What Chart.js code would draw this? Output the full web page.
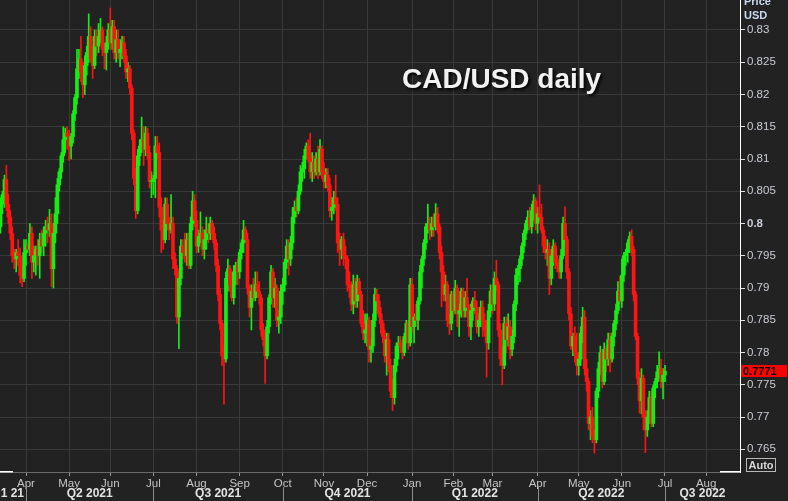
<!DOCTYPE html>
<html><head><meta charset="utf-8">
<script src="https://cdn.jsdelivr.net/npm/chart.js@4"></script>
<style>html,body{margin:0;padding:0;background:#222222;}#wrap{width:788px;height:501px;position:relative;}</style>
</head><body><div id="wrap"><canvas id="c"></canvas></div>
<script>
const chartTitle = 'CAD/USD daily';
const unitLines = ['Price', 'USD'];
const autoLabel = 'Auto';
const firstTradingDay = [2021, 2, 15];   // Mon 15 Mar 2021
const axisSlots = 380;                   // weekday slots shown on the time axis
const monthNames = ['Jan','Feb','Mar','Apr','May','Jun','Jul','Aug','Sep','Oct','Nov','Dec'];
const quarterLabels = ['Q1 21','Q2 2021','Q3 2021','Q4 2021','Q1 2022','Q2 2022','Q3 2022'];
const yTicks = [0.765,0.77,0.775,0.78,0.785,0.79,0.795,0.8,0.805,0.81,0.815,0.82,0.825,0.83];

// one line per week (Mon..Fri), 15 Mar 2021 .. 1 Jul 2022
const opens = [
.7995,.8030,.8045,.8068,.8030, .8010,.7985,.7950,.7945,.7955, .7950,.7920,.7915,.7955,.7965,
.7960,.7985,.7940,.7950,.7960, .7950,.7975,.7965,.7985,.7995, .7990,.8000,.7930,.7985,.8015,
.8060,.8080,.8105,.8130,.8140, .8135,.8120,.8135,.8170,.8195, .8240,.8255,.8235,.8215,.8245,
.8265,.8290,.8255,.8245,.8290, .8275,.8290,.8300,.8270,.8265, .8280,.8300,.8280,.8305,.8265,
.8285,.8265,.8270,.8280,.8260, .8235,.8240,.8210,.8140,.8070, .8020,.8105,.8120,.8130,.8115,
.8140,.8110,.8065,.8065,.8070, .8120,.8110,.8025,.7990,.7975, .8030,.8000,.7990,.8000,.7945,
.7930,.7855,.7915,.7965,.7955, .7950,.7975,.7935,.8000,.8035, .8005,.7965,.7980,.7985,.7960,
.7975,.7990,.7985,.8000,.7985, .7970,.7935,.7890,.7845,.7795, .7790,.7915,.7930,.7905,.7885,
.7925,.7935,.7925,.7955,.7970, .7990,.7975,.7900,.7870,.7895, .7885,.7905,.7895,.7885,.7835,
.7820,.7795,.7840,.7885,.7925, .7885,.7900,.7850,.7855,.7895, .7905,.7940,.7965,.7945,.7970,
.8010,.8025,.8020,.8050,.8080, .8085,.8105,.8120,.8100,.8080, .8095,.8080,.8100,.8080,.8115,
.8080,.8065,.8075,.8060,.8020, .8025,.8040,.8030,.7970,.7960, .7975,.7950,.7945,.7905,.7900,
.7875,.7905,.7880,.7910,.7890, .7845,.7830,.7835,.7850,.7805, .7810,.7850,.7890,.7880,.7860,
.7845,.7825,.7795,.7820,.7780, .7740,.7730,.7780,.7810,.7815, .7810,.7800,.7825,.7845,.7815,
.7905,.7840,.7855,.7850,.7880, .7925,.7945,.7970,.7995,.8000, .7990,.8000,.7995,.8015,.7995,
.7955,.7925,.7890,.7905,.7850, .7845,.7890,.7865,.7900,.7860, .7865,.7895,.7865,.7885,.7870,
.7840,.7865,.7880,.7870,.7840, .7850,.7870,.7850,.7835,.7815, .7865,.7895,.7875,.7915,.7905,
.7835,.7790,.7780,.7845,.7820, .7840,.7805,.7825,.7875,.7920, .7930,.7945,.7965,.7985,.8000,
.8010,.7995,.8020,.8035,.8000, .8015,.8010,.7990,.7965,.7955, .7960,.7915,.7950,.7965,.7940,
.7935,.7925,.7950,.8000,.7975, .7925,.7860,.7810,.7825,.7800, .7780,.7790,.7830,.7855,.7775,
.7755,.7690,.7700,.7670,.7665, .7740,.7775,.7800,.7755,.7805, .7790,.7820,.7790,.7825,.7845,
.7865,.7895,.7880,.7920,.7950, .7955,.7970,.7980,.7960,.7890, .7825,.7760,.7725,.7760,.7700,
.7680,.7700,.7730,.7690,.7745, .7755,.7770,.7775,.7755,.7765
];
const highs = [
.8040,.8050,.8075,.8090,.8045, .8020,.7995,.7960,.7960,.7975, .7962,.7935,.7975,.7975,.7970,
.8000,.7995,.7965,.7965,.7975, .7985,.7990,.7995,.8005,.8010, .8022,.8015,.8000,.8040,.8070,
.8085,.8110,.8150,.8148,.8150, .8145,.8140,.8175,.8200,.8270, .8270,.8290,.8250,.8260,.8275,
.8325,.8305,.8275,.8300,.8300, .8310,.8318,.8305,.8280,.8290, .8310,.8334,.8315,.8315,.8300,
.8300,.8285,.8290,.8290,.8270, .8250,.8245,.8215,.8145,.8085, .8115,.8130,.8165,.8150,.8150,
.8148,.8120,.8080,.8075,.8135, .8135,.8125,.8040,.8005,.8040, .8040,.8010,.8045,.8010,.7955,
.7935,.7925,.7975,.7975,.7985, .7985,.7985,.8010,.8050,.8045, .8020,.7990,.8018,.7995,.7990,
.8010,.8000,.8010,.8005,.7995, .7975,.7945,.7900,.7850,.7810, .7925,.7945,.7935,.7925,.7935,
.7940,.7945,.7960,.7975,.8005, .7995,.7985,.7905,.7905,.7915, .7925,.7925,.7910,.7890,.7845,
.7830,.7850,.7890,.7935,.7930, .7915,.7905,.7865,.7905,.7915, .7945,.7975,.7975,.7980,.8025,
.8035,.8040,.8060,.8090,.8095, .8115,.8125,.8130,.8140,.8110, .8105,.8110,.8120,.8130,.8120,
.8095,.8085,.8085,.8070,.8040, .8050,.8075,.8040,.7985,.7980, .7985,.7965,.7950,.7925,.7910,
.7920,.7915,.7920,.7915,.7895, .7865,.7860,.7860,.7855,.7820, .7860,.7900,.7898,.7890,.7870,
.7850,.7835,.7830,.7830,.7790, .7758,.7790,.7815,.7825,.7825, .7820,.7830,.7850,.7850,.7915,
.7915,.7860,.7875,.7885,.7935, .7950,.7975,.8000,.8030,.8010, .8010,.8015,.8031,.8025,.8000,
.7965,.7935,.7920,.7910,.7860, .7895,.7895,.7912,.7905,.7875, .7900,.7900,.7895,.7915,.7875,
.7875,.7885,.7895,.7880,.7860, .7880,.7880,.7860,.7850,.7875, .7905,.7905,.7925,.7943,.7910,
.7845,.7810,.7855,.7855,.7860, .7850,.7835,.7880,.7930,.7935, .7950,.7970,.7990,.8005,.8020,
.8025,.8030,.8045,.8040,.8025, .8060,.8030,.7995,.7980,.7975, .7970,.7960,.7975,.7970,.7950,
.7945,.7960,.8010,.8026,.7980, .7930,.7870,.7830,.7840,.7830, .7800,.7840,.7870,.7865,.7790,
.7760,.7710,.7715,.7680,.7745, .7785,.7810,.7805,.7815,.7810, .7830,.7830,.7830,.7850,.7875,
.7910,.7918,.7945,.7955,.7960, .7975,.7987,.7990,.7965,.7895, .7830,.7770,.7775,.7765,.7710,
.7710,.7740,.7740,.7750,.7760, .7780,.7801,.7790,.7775,.7780
];
const lows = [
.7985,.8015,.8025,.8020,.8000, .7975,.7940,.7930,.7925,.7935, .7908,.7902,.7910,.7935,.7955,
.7950,.7915,.7925,.7920,.7935, .7915,.7955,.7950,.7965,.7970, .7980,.7902,.7900,.7970,.8000,
.8050,.8070,.8095,.8110,.8115, .8098,.8100,.8125,.8160,.8185, .8225,.8220,.8195,.8200,.8230,
.8250,.8250,.8225,.8240,.8260, .8265,.8280,.8260,.8240,.8238, .8270,.8270,.8270,.8255,.8250,
.8255,.8243,.8255,.8250,.8225, .8220,.8200,.8130,.8060,.8008, .8015,.8090,.8110,.8090,.8105,
.8100,.8055,.8040,.8045,.8040, .8100,.8010,.7955,.7960,.7970, .7990,.7975,.7985,.7930,.7920,
.7845,.7806,.7905,.7945,.7940, .7935,.7930,.7930,.7990,.7995, .7955,.7955,.7970,.7950,.7945,
.7960,.7970,.7975,.7975,.7960, .7925,.7880,.7835,.7780,.7720, .7785,.7895,.7895,.7880,.7875,
.7905,.7905,.7915,.7945,.7955, .7970,.7890,.7855,.7835,.7880, .7880,.7885,.7875,.7825,.7810,
.7752,.7790,.7830,.7875,.7870, .7870,.7840,.7830,.7845,.7875, .7895,.7930,.7920,.7935,.7960,
.8000,.8010,.8015,.8045,.8065, .8070,.8100,.8095,.8070,.8065, .8070,.8075,.8070,.8075,.8070,
.8055,.8055,.8050,.8010,.8005, .8015,.8020,.7955,.7935,.7945, .7935,.7930,.7895,.7885,.7865,
.7860,.7870,.7870,.7880,.7840, .7820,.7815,.7810,.7785,.7785, .7800,.7840,.7865,.7855,.7830,
.7815,.7785,.7765,.7770,.7730, .7710,.7720,.7770,.7790,.7800, .7790,.7795,.7815,.7805,.7810,
.7830,.7815,.7840,.7835,.7875, .7900,.7935,.7960,.7985,.7975, .7980,.7980,.7990,.7985,.7945,
.7871,.7880,.7880,.7840,.7828, .7835,.7855,.7860,.7840,.7825, .7855,.7855,.7855,.7855,.7825,
.7820,.7850,.7860,.7830,.7825, .7840,.7825,.7825,.7762,.7805, .7855,.7860,.7865,.7895,.7825,
.7780,.7750,.7775,.7800,.7810, .7790,.7795,.7815,.7865,.7905, .7910,.7935,.7955,.7975,.7990,
.7990,.7985,.8005,.7990,.7985, .8005,.7985,.7955,.7945,.7935, .7890,.7905,.7935,.7930,.7925,
.7915,.7915,.7945,.7965,.7915, .7850,.7805,.7795,.7785,.7765, .7765,.7780,.7815,.7765,.7740,
.7680,.7665,.7660,.7644,.7660, .7730,.7765,.7745,.7750,.7770, .7780,.7770,.7785,.7810,.7835,
.7860,.7875,.7870,.7910,.7935, .7940,.7955,.7950,.7880,.7820, .7750,.7706,.7705,.7680,.7645,
.7670,.7690,.7685,.7685,.7730, .7745,.7760,.7745,.7728,.7755
];
const closes = [
.8030,.8045,.8068,.8030,.8010, .7985,.7950,.7945,.7955,.7950, .7920,.7915,.7955,.7965,.7960,
.7985,.7940,.7950,.7960,.7950, .7975,.7965,.7985,.7995,.7990, .8000,.7930,.7985,.8015,.8060,
.8080,.8105,.8130,.8140,.8135, .8120,.8135,.8170,.8195,.8240, .8255,.8235,.8215,.8245,.8265,
.8290,.8255,.8245,.8290,.8275, .8290,.8300,.8270,.8265,.8280, .8300,.8280,.8305,.8265,.8285,
.8265,.8270,.8280,.8260,.8235, .8240,.8210,.8140,.8070,.8020, .8105,.8120,.8130,.8115,.8140,
.8110,.8065,.8065,.8070,.8120, .8110,.8025,.7990,.7975,.8030, .8000,.7990,.8000,.7945,.7930,
.7855,.7915,.7965,.7955,.7950, .7975,.7935,.8000,.8035,.8005, .7965,.7980,.7985,.7960,.7975,
.7990,.7985,.8000,.7985,.7970, .7935,.7890,.7845,.7795,.7790, .7915,.7930,.7905,.7885,.7925,
.7935,.7925,.7955,.7970,.7990, .7975,.7900,.7870,.7895,.7885, .7905,.7895,.7885,.7835,.7820,
.7795,.7840,.7885,.7925,.7885, .7900,.7850,.7855,.7895,.7905, .7940,.7965,.7945,.7970,.8010,
.8025,.8020,.8050,.8080,.8085, .8105,.8120,.8100,.8080,.8095, .8080,.8100,.8080,.8115,.8080,
.8065,.8075,.8060,.8020,.8025, .8040,.8030,.7970,.7960,.7975, .7950,.7945,.7905,.7900,.7875,
.7905,.7880,.7910,.7890,.7845, .7830,.7835,.7850,.7805,.7810, .7850,.7890,.7880,.7860,.7845,
.7825,.7795,.7820,.7780,.7740, .7730,.7780,.7810,.7815,.7810, .7800,.7825,.7845,.7815,.7905,
.7840,.7855,.7850,.7880,.7925, .7945,.7970,.7995,.8000,.7990, .8000,.7995,.8015,.7995,.7955,
.7925,.7890,.7905,.7850,.7845, .7890,.7865,.7900,.7860,.7865, .7895,.7865,.7885,.7870,.7840,
.7865,.7880,.7870,.7840,.7850, .7870,.7850,.7835,.7815,.7865, .7895,.7875,.7915,.7905,.7835,
.7790,.7780,.7845,.7820,.7840, .7805,.7825,.7875,.7920,.7930, .7945,.7965,.7985,.8000,.8010,
.7995,.8020,.8035,.8000,.8015, .8010,.7990,.7965,.7955,.7960, .7915,.7950,.7965,.7940,.7935,
.7925,.7950,.8000,.7975,.7925, .7860,.7810,.7825,.7800,.7780, .7790,.7830,.7855,.7775,.7755,
.7690,.7700,.7670,.7665,.7740, .7775,.7800,.7755,.7805,.7790, .7820,.7790,.7825,.7845,.7865,
.7895,.7880,.7920,.7950,.7955, .7970,.7980,.7960,.7890,.7825, .7760,.7725,.7760,.7700,.7680,
.7700,.7730,.7690,.7745,.7755, .7770,.7775,.7755,.7765,.7771
];

// weekday calendar for the time axis
const dates = [];
{
  const d = new Date(Date.UTC(firstTradingDay[0], firstTradingDay[1], firstTradingDay[2]));
  while (dates.length < axisSlots) {
    const wd = d.getUTCDay();
    if (wd > 0 && wd < 6) dates.push(new Date(d.getTime()));
    d.setUTCDate(d.getUTCDate() + 1);
  }
}
const monthTicks = [];
for (let i = 1; i < dates.length; i++) {
  if (dates[i].getUTCMonth() !== dates[i - 1].getUTCMonth()) monthTicks.push(i);
}
const quarterStarts = monthTicks.filter(i => dates[i].getUTCMonth() % 3 === 0);

const UP = '#14ee14', DOWN = '#ff1414';
const candleColors = closes.map((c, i) => c >= opens[i] ? UP : DOWN);
const FONT = '"Liberation Sans", Arial, sans-serif';

const decor = {
  id: 'decor',
  beforeDraw(chart) {
    const c = chart.ctx;
    c.save();
    c.fillStyle = '#222222';
    c.fillRect(0, 0, chart.width, chart.height);
    c.restore();
  },
  afterDraw(chart) {
    const c = chart.ctx, xs = chart.scales.x, ys = chart.scales.y, a = chart.chartArea;
    c.save();
    // title
    c.font = 'bold 28px ' + FONT;
    c.textAlign = 'left';
    c.textBaseline = 'alphabetic';
    c.shadowColor = 'rgba(0,0,0,0.9)';
    c.shadowOffsetX = 2; c.shadowOffsetY = 2; c.shadowBlur = 3;
    c.fillStyle = '#f2f2f2';
    c.fillText(chartTitle, 402, 88);
    c.shadowColor = 'transparent'; c.shadowBlur = 0; c.shadowOffsetX = 0; c.shadowOffsetY = 0;

    // unit header
    c.font = 'bold 11px ' + FONT;
    c.fillStyle = '#c9d6ee';
    c.fillText(unitLines[0], 744, 5);
    c.fillText(unitLines[1], 744, 19);

    // last price tag
    const last = closes.length - 1;
    const py = ys.getPixelForValue(closes[last]);
    c.fillStyle = '#ff0000';
    c.fillRect(a.right + 1, Math.round(py) - 6, 46, 12);
    c.fillStyle = '#000000';
    c.font = 'bold 11px ' + FONT;
    c.textBaseline = 'middle';
    c.fillText(closes[last].toFixed(4), a.right + 3, Math.round(py) + 0.5);

    // Auto box
    c.strokeStyle = '#b8b8b8';
    c.lineWidth = 1;
    c.strokeRect(746.5, 458.5, 29, 13);
    c.fillStyle = '#d6d6d6';
    c.font = 'bold 11px ' + FONT;
    c.textAlign = 'center';
    c.fillText(autoLabel, 761, 465.5);

    // bottom edge highlights
    c.fillStyle = '#ffffff';
    c.fillRect(0, a.bottom - 1, 13, 1.5);
    c.fillRect(720, a.bottom - 1, a.right - 720, 1.5);

    // quarter row
    const bounds = [a.left].concat(quarterStarts.map(i => xs.getPixelForValue(i)).filter(p => p < a.right)).concat([a.right]);
    c.strokeStyle = '#8c8c8c';
    bounds.slice(1, -1).forEach(p => {
      c.beginPath(); c.moveTo(Math.round(p) + 0.5, 487); c.lineTo(Math.round(p) + 0.5, 501); c.stroke();
    });
    c.font = 'bold 12px ' + FONT;
    c.fillStyle = '#e4e4e4';
    c.textBaseline = 'middle';
    for (let k = 0; k < bounds.length - 1 && k < quarterLabels.length; k++) {
      if (k === 0) { c.textAlign = 'right'; c.fillText(quarterLabels[k], bounds[1] - 2, 494); }
      else { c.textAlign = 'center'; c.fillText(quarterLabels[k], (bounds[k] + bounds[k + 1]) / 2, 494); }
    }
    c.restore();
  }
};

const noPad = s => { s.paddingTop = 0; s.paddingBottom = 0; s.paddingLeft = 0; s.paddingRight = 0; };

new Chart(document.getElementById('c'), {
  type: 'bar',
  data: {
    datasets: [
      { label: 'body', data: opens.map((o, i) => ({ x: i, y: [o, closes[i]] })),
        backgroundColor: candleColors, barThickness: 3, grouped: false, minBarLength: 1, borderWidth: 0 },
      { label: 'wick', data: lows.map((l, i) => ({ x: i, y: [l, highs[i]] })),
        backgroundColor: candleColors, barThickness: 1, grouped: false, borderWidth: 0 }
    ]
  },
  options: {
    responsive: true, maintainAspectRatio: false, animation: false, events: [],
    layout: { padding: 0 },
    plugins: { legend: { display: false }, tooltip: { enabled: false }, title: { display: false } },
    scales: {
      x: {
        type: 'linear', min: -0.265, max: 377.27, offset: false,
        afterBuildTicks: s => { s.ticks = monthTicks.map(v => ({ value: v })); },
        afterFit: s => { s.height = 29; noPad(s); },
        ticks: { autoSkip: false, maxRotation: 0, minRotation: 0, padding: 1, color: '#c4c4c4',
          font: { family: FONT, size: 11.5 },
          callback: v => monthNames[dates[v].getUTCMonth()] },
        grid: { offset: false, color: '#393939', tickColor: '#9a9a9a', tickLength: 4, lineWidth: 1 },
        border: { color: '#6a6a6a' }
      },
      y: {
        position: 'right', min: 0.76148, max: 0.83465,
        afterBuildTicks: s => { s.ticks = yTicks.map(v => ({ value: v })); },
        afterFit: s => { s.width = 48; noPad(s); },
        ticks: { padding: 2, color: '#c8ccd4',
          font: ctx => ({ family: FONT, size: 11.5, weight: (ctx.tick && ctx.tick.value === 0.8) ? 'bold' : 'normal' }),
          callback: v => String(v) },
        grid: { color: '#393939', tickColor: '#e0e0e0', tickLength: 5 },
        border: { color: '#ffffff' }
      }
    }
  },
  plugins: [decor]
});
</script>
</body></html>
